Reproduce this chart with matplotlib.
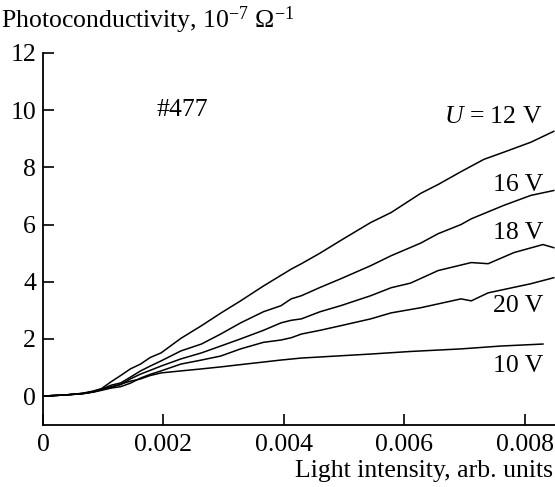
import matplotlib
matplotlib.use("Agg")
import matplotlib.pyplot as plt

plt.rcParams['font.family'] = ['Liberation Serif', 'DejaVu Serif']
plt.rcParams['mathtext.fontset'] = 'custom'
plt.rcParams['mathtext.rm'] = 'Liberation Serif'
plt.rcParams['mathtext.it'] = 'Liberation Serif:italic'

# Photoconductivity (10^-7 1/Ohm) vs light intensity, sample #477, several bias voltages
x_12 = [0, 0.00038, 0.00066, 0.00084, 0.00097, 0.00113, 0.00129, 0.00145, 0.00162, 0.00178,
        0.00196, 0.00229, 0.00263, 0.00295, 0.00328, 0.00366, 0.00412, 0.00429, 0.00460,
        0.00494, 0.00544, 0.00578, 0.00627, 0.00656, 0.00694, 0.00732, 0.00765, 0.00810, 0.00848]
y_12 = [0.0, 0.04, 0.10, 0.18, 0.26, 0.50, 0.72, 0.95, 1.12, 1.35,
        1.51, 2.02, 2.46, 2.90, 3.33, 3.85, 4.44, 4.63, 5.00,
        5.44, 6.07, 6.42, 7.09, 7.40, 7.85, 8.28, 8.53, 8.88, 9.26]

x_16 = [0, 0.00038, 0.00066, 0.00084, 0.00097, 0.00113, 0.00129, 0.00145, 0.00162, 0.00178,
        0.00196, 0.00229, 0.00263, 0.00295, 0.00328, 0.00366, 0.00395, 0.00412, 0.00429,
        0.00460, 0.00494, 0.00544, 0.00578, 0.00627, 0.00656, 0.00694, 0.00711, 0.00765,
        0.00810, 0.00848]
y_16 = [0.0, 0.04, 0.09, 0.16, 0.24, 0.38, 0.46, 0.66, 0.88, 1.05,
        1.23, 1.58, 1.82, 2.17, 2.56, 2.95, 3.16, 3.40, 3.51,
        3.80, 4.10, 4.56, 4.91, 5.35, 5.68, 6.00, 6.20, 6.67,
        7.02, 7.19]

x_18 = [0, 0.00038, 0.00066, 0.00084, 0.00097, 0.00113, 0.00129, 0.00145, 0.00162, 0.00178,
        0.00196, 0.00229, 0.00263, 0.00295, 0.00328, 0.00366, 0.00395, 0.00412, 0.00429,
        0.00460, 0.00494, 0.00544, 0.00578, 0.00610, 0.00656, 0.00711, 0.00739, 0.00782,
        0.00830, 0.00848]
y_18 = [0.0, 0.04, 0.09, 0.15, 0.22, 0.33, 0.40, 0.60, 0.77, 0.90,
        1.05, 1.30, 1.51, 1.75, 2.00, 2.30, 2.56, 2.65, 2.70,
        2.95, 3.16, 3.51, 3.79, 3.95, 4.39, 4.67, 4.63, 5.02,
        5.30, 5.19]

x_20 = [0, 0.00038, 0.00066, 0.00084, 0.00097, 0.00113, 0.00129, 0.00145, 0.00162, 0.00178,
        0.00196, 0.00229, 0.00263, 0.00295, 0.00328, 0.00366, 0.00395, 0.00412, 0.00429,
        0.00460, 0.00494, 0.00544, 0.00578, 0.00627, 0.00694, 0.00711, 0.00739, 0.00810,
        0.00848]
y_20 = [0.0, 0.04, 0.08, 0.14, 0.20, 0.28, 0.33, 0.45, 0.63, 0.76,
        0.88, 1.12, 1.26, 1.40, 1.65, 1.88, 1.96, 2.04, 2.17,
        2.30, 2.46, 2.70, 2.91, 3.09, 3.40, 3.33, 3.61, 3.93,
        4.14]

x_10 = [0, 0.00038, 0.00066, 0.00084, 0.00097, 0.00113, 0.00129, 0.00145, 0.00162, 0.00178,
        0.00196, 0.00229, 0.00263, 0.00295, 0.00328, 0.00395, 0.00429, 0.00544, 0.00610,
        0.00694, 0.00760, 0.00830]
y_10 = [0.0, 0.04, 0.09, 0.15, 0.24, 0.30, 0.42, 0.52, 0.60, 0.72,
        0.81, 0.88, 0.95, 1.02, 1.10, 1.26, 1.33, 1.47, 1.56,
        1.65, 1.75, 1.82]

curves = [(x_12, y_12), (x_16, y_16), (x_18, y_18), (x_20, y_20), (x_10, y_10)]

curve_labels = [r'$U$ = 12 V', '16 V', '18 V', '20 V', '10 V']
label_y = [9.75, 7.37, 5.72, 3.16, 1.05]

x_ticks = [0, 0.002, 0.004, 0.006, 0.008]
x_tick_labels = ['0', '0.002', '0.004', '0.006', '0.008']
y_ticks = [0, 2, 4, 6, 8, 10, 12]

FS = 18.5

fig = plt.figure(figsize=(5.55, 4.87), dpi=100)
ax = fig.add_axes([0.0775, 0.128, 0.9225, 0.7632])

for xs, ys in curves:
    ax.plot(xs, ys, color='black', lw=1.1)

ax.set_xlim(0, 0.0085)
ax.set_ylim(-1, 12)

ax.spines['top'].set_visible(False)
ax.spines['right'].set_visible(False)
for s in ('left', 'bottom'):
    ax.spines[s].set_linewidth(1.3)

ax.set_xticks(x_ticks)
ax.set_xticklabels(x_tick_labels)
ax.set_yticks(y_ticks)
ax.tick_params(direction='in', length=8, width=1.2, labelsize=FS, color='black')
ax.tick_params(axis='x', pad=7)
ax.tick_params(axis='y', pad=5)

for txt, yv in zip(curve_labels, label_y):
    ax.text(0.0083, yv, txt, ha='right', va='center', fontsize=FS)

ax.text(0.00188, 10.0, '#477', ha='left', va='center', fontsize=FS)

fig.text(0.002, 0.9425, r'Photoconductivity, 10$^{-7}$ $\Omega^{-1}$',
         ha='left', va='baseline', fontsize=FS)
fig.text(0.997, 0.0205, 'Light intensity, arb. units',
         ha='right', va='baseline', fontsize=FS)

fig.savefig('out.png', dpi=100)
